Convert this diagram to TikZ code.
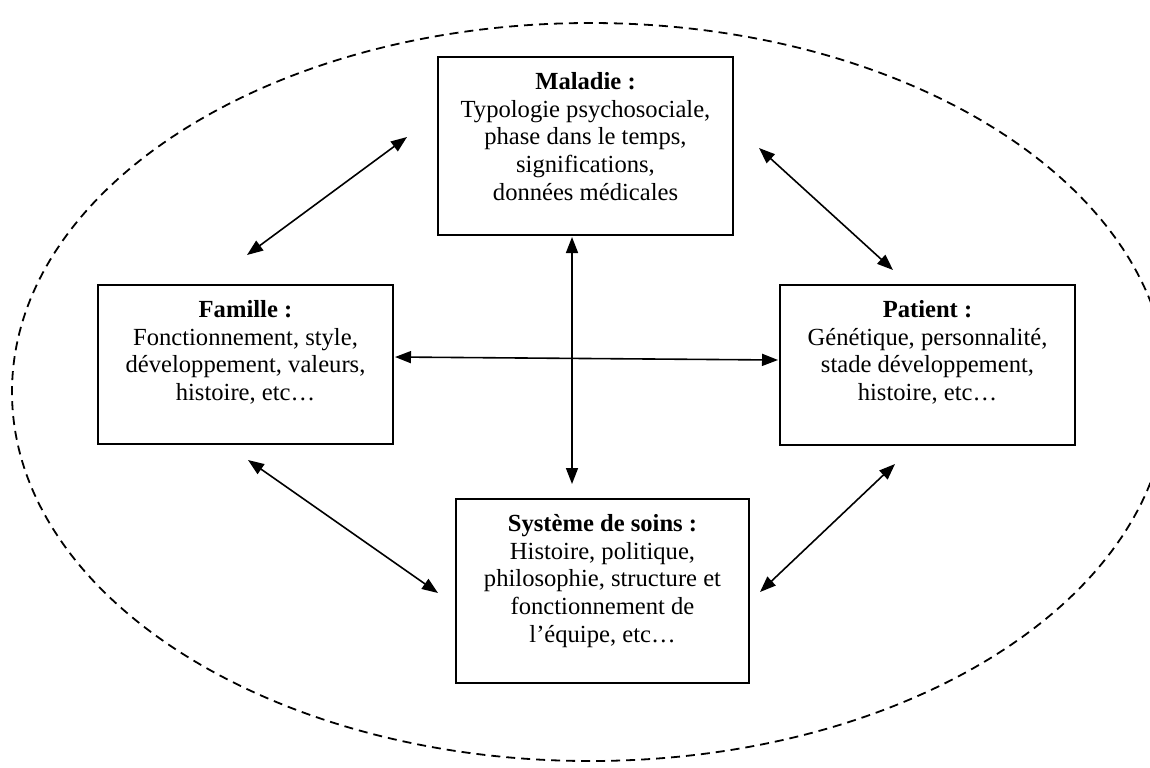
\documentclass[tikz,border=0pt]{standalone}
\usepackage{fontspec}
\setmainfont{Liberation Serif}
\usetikzlibrary{arrows.meta}

\tikzset{
  box/.style={draw, line width=1.2pt, inner sep=0pt},
  txt/.style={anchor=north, align=center, inner sep=0pt, font=\fontsize{12.3}{13.9}\selectfont},
  link/.style={line width=0.8pt, {Triangle[length=8pt,width=6pt]}-{Triangle[length=8pt,width=6pt]}},
  zone/.style={dash pattern=on 4.5pt off 3pt, line width=0.9pt}
}

\begin{document}
\begin{tikzpicture}[x=0.5pt,y=-0.5pt]
\useasboundingbox (0,0) rectangle (1150,767);

%dashed ellipse round everything
\begin{scope}
\clip (0,0) rectangle (1150,767);
\draw[zone] (590,392) ellipse [x radius=289pt, y radius=184.5pt];
\end{scope}

%boxes
\node[box, minimum width=147.5pt, minimum height=89pt] (mal) at (585.5,146) {};
\node[box, minimum width=147.5pt, minimum height=79.5pt] (fam) at (245.5,364.5) {};
\node[box, minimum width=147.5pt, minimum height=80pt] (pat) at (927.5,365) {};
\node[box, minimum width=146.5pt, minimum height=92pt] (sys) at (602.5,591) {};

%texts of boxes
\node[txt] (maltxt) at ([yshift=-8pt]mal.north) {\textbf{Maladie :}\\Typologie psychosociale,\\phase dans le temps,\\significations,\\données médicales};
\node[txt] (famtxt) at ([yshift=-8pt]fam.north) {\textbf{Famille :}\\Fonctionnement, style,\\développement, valeurs,\\histoire, etc…};
\node[txt] (pattxt) at ([yshift=-8pt]pat.north) {\textbf{Patient :}\\Génétique, personnalité,\\stade développement,\\histoire, etc…};
\node[txt] (systxt) at ([yshift=-8pt]sys.north) {\textbf{Système de soins :}\\Histoire, politique,\\philosophie, structure et\\fonctionnement de\\l’équipe, etc…};

%ends of arrows
\coordinate (fm1) at (247,255);
\coordinate (fm2) at (407,137);
\coordinate (mp1) at (759,148);
\coordinate (mp2) at (893,270);
\coordinate (ms1) at (572,237);
\coordinate (ms2) at (572,484);
\coordinate (fp1) at (395,357);
\coordinate (fp2) at (778,360);
\coordinate (fs1) at (248,460);
\coordinate (fs2) at (438,593);
\coordinate (ps1) at (895,464);
\coordinate (ps2) at (760,592);

%arrows
\draw[link] (fm1) -- (fm2);
\draw[link] (mp1) -- (mp2);
\draw[link] (ms1) -- (ms2);
\draw[link] (fp1) -- (fp2);
\draw[link] (fs1) -- (fs2);
\draw[link] (ps1) -- (ps2);

\end{tikzpicture}
\end{document}
